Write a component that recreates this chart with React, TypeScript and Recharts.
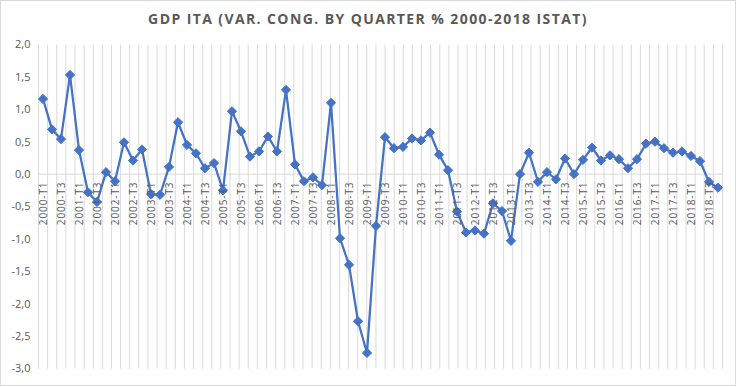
import React from "react";
import { LineChart, Line, XAxis, YAxis, ReferenceLine } from "recharts";

const years = ["2000","2001","2002","2003","2004","2005","2006","2007","2008","2009","2010","2011","2012","2013","2014","2015","2016","2017","2018"];
const quarters = ["T1","T2","T3","T4"];
const gdpValues = [
  1.16, 0.69, 0.54, 1.53,
  0.37, -0.28, -0.43, 0.03,
  -0.11, 0.49, 0.21, 0.38,
  -0.31, -0.32, 0.11, 0.80,
  0.45, 0.32, 0.09, 0.17,
  -0.25, 0.97, 0.66, 0.27,
  0.35, 0.58, 0.35, 1.30,
  0.15, -0.11, -0.05, -0.17,
  1.10, -0.99, -1.40, -2.27,
  -2.76, -0.80, 0.57, 0.40,
  0.42, 0.55, 0.52, 0.64,
  0.30, 0.06, -0.58, -0.90,
  -0.87, -0.92, -0.45, -0.57,
  -1.03, 0.0, 0.33, -0.12,
  0.03, -0.08, 0.24, 0.0,
  0.22, 0.41, 0.21, 0.29,
  0.23, 0.09, 0.23, 0.47,
  0.50, 0.40, 0.33, 0.35,
  0.28, 0.20, -0.12, -0.21,
];
const yTicks = [-3, -2.5, -2, -1.5, -1, -0.5, 0, 0.5, 1, 1.5, 2];

const categories: string[] = [];
years.forEach((y) => quarters.forEach((q) => categories.push(`${y}-${q}`)));
const data = categories.map((q, i) => ({ q, v: gdpValues[i] }));
const gridTicks = categories.map((_, i) => i).concat([categories.length]);

const W = 736;
const H = 387;
const M_TOP = 44.5;
const M_BOTTOM = 17.5;
const M_RIGHT = 13.5;
const M_LEFT = 0.5;
const Y_AXIS_W = 38;
const Y_MIN = -3;
const Y_MAX = 2;
const PLOT_H = H - M_TOP - M_BOTTOM;
const ZERO_Y = M_TOP + (PLOT_H * Y_MAX) / (Y_MAX - Y_MIN);

const COLOR = "#4472C4";
const TEXT = "#595959";
const GRID = "#d9d9d9";
const FONT = "'Open Sans', 'Liberation Sans', sans-serif";

const Diamond = (props: any) => {
  const { cx, cy } = props;
  if (cx == null || cy == null) return null;
  const r = 4.6;
  return (
    <path
      d={`M${cx},${cy - r}L${cx + r},${cy}L${cx},${cy + r}L${cx - r},${cy}Z`}
      fill={COLOR}
      stroke={COLOR}
      strokeWidth={1}
    />
  );
};

const XTick = (props: any) => {
  const { x, payload } = props;
  const y = ZERO_Y + 7;
  return (
    <text
      x={x}
      y={y}
      transform={`rotate(-90, ${x}, ${y})`}
      textAnchor="end"
      dy="0.35em"
      fontSize={10}
      letterSpacing={0.9}
      fill={TEXT}
      fontFamily={FONT}
    >
      {payload.value}
    </text>
  );
};

const fmt = (v: number) => v.toFixed(1).replace(".", ",");

export default function App() {
  return (
    <div style={{ position: "absolute", left: 0, top: 0, width: W, height: H, background: "#fff" }}>
      <div
        style={{
          position: "absolute",
          left: 0,
          top: 0,
          width: W - 2,
          height: H - 3,
          border: "1px solid " + GRID,
        }}
      />
      <div
        style={{
          position: "absolute",
          left: 0,
          top: 9,
          width: W,
          textAlign: "center",
          fontFamily: FONT,
          fontWeight: 700,
          fontSize: 14,
          letterSpacing: 1.4,
          color: TEXT,
        }}
      >
        GDP ITA (VAR. CONG. BY QUARTER % 2000-2018 ISTAT)
      </div>
      <div style={{ position: "absolute", left: 0, top: 0 }}>
        <LineChart
          width={W}
          height={H}
          data={data}
          margin={{ top: M_TOP, right: M_RIGHT, bottom: M_BOTTOM, left: M_LEFT }}
        >
          <XAxis
            xAxisId="grid"
            type="number"
            domain={[0, categories.length]}
            ticks={gridTicks}
            interval={0}
            axisLine={false}
            tickLine={false}
            tick={false}
            height={0}
          />
          <XAxis
            dataKey="q"
            scale="band"
            interval={1}
            tick={<XTick />}
            axisLine={false}
            tickLine={false}
            height={1}
          />
          <YAxis
            domain={[Y_MIN, Y_MAX]}
            ticks={yTicks}
            tickFormatter={fmt}
            axisLine={false}
            tickLine={false}
            tickSize={0}
            tickMargin={8}
            width={Y_AXIS_W}
            tick={{ fill: TEXT, fontSize: 11, fontFamily: FONT }}
            interval={0}
          />
          {gridTicks.map((t) => (
            <ReferenceLine key={"g" + t} xAxisId="grid" x={t} stroke={GRID} strokeWidth={1} />
          ))}
          <ReferenceLine y={0} stroke={GRID} strokeWidth={1} />
          <Line
            type="linear"
            dataKey="v"
            stroke={COLOR}
            strokeWidth={2.25}
            dot={<Diamond />}
            activeDot={false}
            isAnimationActive={false}
          />
        </LineChart>
      </div>
    </div>
  );
}
